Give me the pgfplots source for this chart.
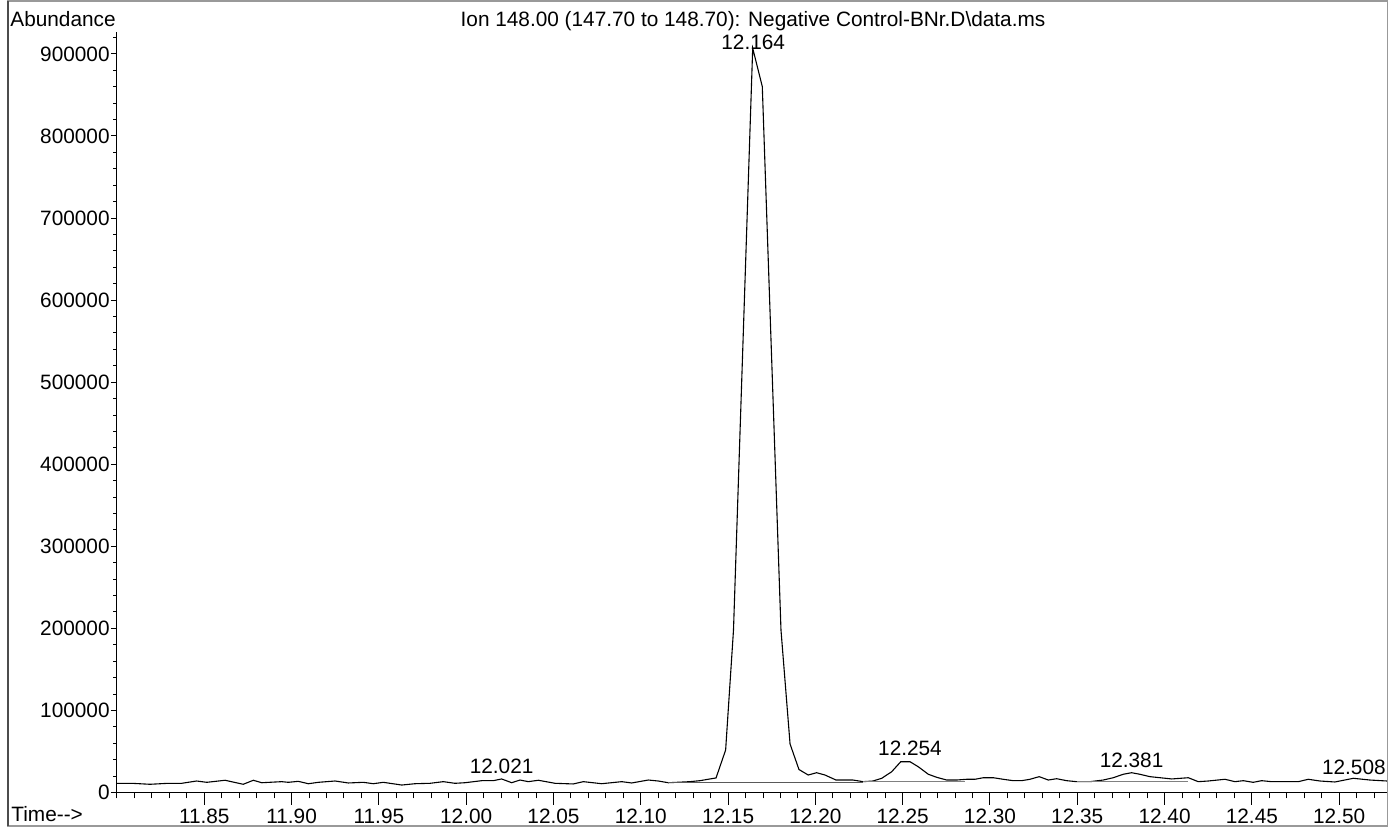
\documentclass[border=0pt]{standalone}
\usepackage{fontspec}
\setmainfont{Liberation Sans}
\usepackage{pgfplots}
\usepackage{pgfplotstable}
\pgfplotsset{compat=1.18}
\pgfplotstableread{
t a
11.8000 11200
11.8084 11200
11.8189 10000
11.8294 11200
11.8371 11200
11.8456 14000
11.8514 12400
11.8619 14900
11.8723 10000
11.8781 14900
11.8829 11900
11.8943 13200
11.8981 12400
11.9038 13600
11.9096 10700
11.9153 12400
11.9249 14000
11.9325 11600
11.9411 12400
11.9468 10700
11.9525 12400
11.9631 9100
11.9707 10700
11.9793 11200
11.9869 13200
11.9936 11200
11.9993 11900
12.0089 14400
12.0155 14400
12.0203 16500
12.0261 11900
12.0308 15200
12.0356 13200
12.0413 14900
12.0509 11200
12.0613 10400
12.0671 13200
12.0776 10700
12.0891 13200
12.0948 11600
12.1043 15200
12.1100 14000
12.1158 11900
12.1282 13200
12.1339 14400
12.1396 16500
12.1431 17700
12.1486 51800
12.1531 198000
12.1641 906900
12.1696 860100
12.1803 198000
12.1855 59100
12.1906 28000
12.1959 21300
12.2007 24100
12.2055 21300
12.2118 15200
12.2215 15200
12.2273 13200
12.2330 14000
12.2380 17300
12.2437 25300
12.2489 37500
12.2542 37500
12.2589 31400
12.2647 22200
12.2695 18500
12.2752 15200
12.2809 15200
12.2866 16100
12.2914 16100
12.2962 18000
12.3019 18000
12.3076 16100
12.3133 14400
12.3181 14400
12.3229 16100
12.3282 19300
12.3334 15200
12.3382 16800
12.3439 14400
12.3496 13200
12.3573 13200
12.3649 15200
12.3706 18000
12.3763 22200
12.3811 24100
12.3859 22200
12.3916 19300
12.3974 18000
12.4041 16500
12.4136 18000
12.4193 13200
12.4250 14000
12.4346 16100
12.4403 13200
12.4451 14400
12.4508 12400
12.4556 14400
12.4613 13200
12.4766 13200
12.4823 16100
12.4890 14000
12.4976 12800
12.5081 17300
12.5176 15200
12.5274 14000
}\tic
\newcommand{\lblfont}{\fontsize{10.4}{12}\selectfont}
\begin{document}
\begin{tikzpicture}
\path[use as bounding box] (-58.5pt,-18.25pt) rectangle (635.5pt,396.25pt);
\begin{axis}[
  at={(0pt,0pt)}, anchor=south west, scale only axis,
  width=635pt, height=380.4pt,
  xmin=11.80, xmax=12.5274, ymin=0, ymax=927100,
  axis x line=bottom, axis y line=none,
  scaled x ticks=false, scaled y ticks=false,
  x axis line style={-, line width=0.5pt, black},
  xtick={11.85,11.90,11.95,12.00,12.05,12.10,12.15,12.20,12.25,12.30,12.35,12.40,12.45,12.50},
  xticklabels={11.85,11.90,11.95,12.00,12.05,12.10,12.15,12.20,12.25,12.30,12.35,12.40,12.45,12.50},
  minor xtick={11.80,11.81,...,12.525},
  tick align=outside, major tick length=6.25pt, minor tick length=3pt,
  tick style={black, line width=0.5pt},
  xticklabel style={font=\lblfont, anchor=base, inner sep=0pt, yshift=-9.15pt},
  /pgf/number format/assume math mode=true,
  clip=false,
]
\addplot[black, line width=0.55pt] table[x=t, y=a] {\tic};
\addplot[black!65, line width=0.4pt] coordinates {(12.1158,12400) (12.2273,12400)};
\addplot[black!50, line width=0.4pt] coordinates {(12.2273,14000) (12.2859,14000)};
\addplot[black!50, line width=0.4pt] coordinates {(12.3496,13200) (12.4136,13200)};
\node[anchor=base, inner sep=0pt, font=\lblfont] at (axis cs:12.1644,904800) {12.164};
\node[anchor=base, inner sep=0pt, font=\lblfont] at (axis cs:12.0203,23400) {12.021};
\node[anchor=base, inner sep=0pt, font=\lblfont] at (axis cs:12.2542,44500) {12.254};
\node[anchor=base, inner sep=0pt, font=\lblfont] at (axis cs:12.3811,30200) {12.381};
\node[anchor=base, inner sep=0pt, font=\lblfont] at (axis cs:12.5084,22200) {12.508};
\end{axis}
\begin{axis}[
  at={(0pt,0pt)}, anchor=south west, scale only axis,
  width=635pt, height=380.4pt,
  xmin=11.80, xmax=12.5274, ymin=0, ymax=927100,
  axis x line=none, axis y line=left,
  scaled x ticks=false, scaled y ticks=false,
  y axis line style={-, line width=0.5pt, black},
  ytick={0,100000,200000,300000,400000,500000,600000,700000,800000,900000},
  yticklabels={0,100000,200000,300000,400000,500000,600000,700000,800000,900000},
  minor ytick={0,20000,...,920000},
  tick align=outside, major tick length=3pt, minor tick length=1.75pt,
  tick style={black, line width=0.5pt},
  yticklabel style={font=\lblfont, anchor=east, inner sep=0.5pt},
  /pgf/number format/assume math mode=true,
]
\addplot[draw=none] coordinates {(12.0,0)};
\end{axis}
\draw[black!40, line width=0.9pt] (-54.5pt,-16.75pt) rectangle (635.3pt,395.75pt);
\draw[black!70, line width=0.7pt] (-54.5pt,-16.75pt) -- (-54.5pt,395.75pt);
\node[anchor=base west, inner sep=0pt, font=\lblfont] at (-53.5pt,382.9pt) {Abundance};
\node[anchor=base, inner sep=0pt, font=\lblfont] at (318pt,382.9pt) {Ion 148.00 (147.70 to 148.70): Negative Control-BNr.D\textbackslash data.ms};
\node[anchor=base west, inner sep=0pt, font=\lblfont] at (-53pt,-14.75pt) {Time{-}{-}>};
\end{tikzpicture}
\end{document}
